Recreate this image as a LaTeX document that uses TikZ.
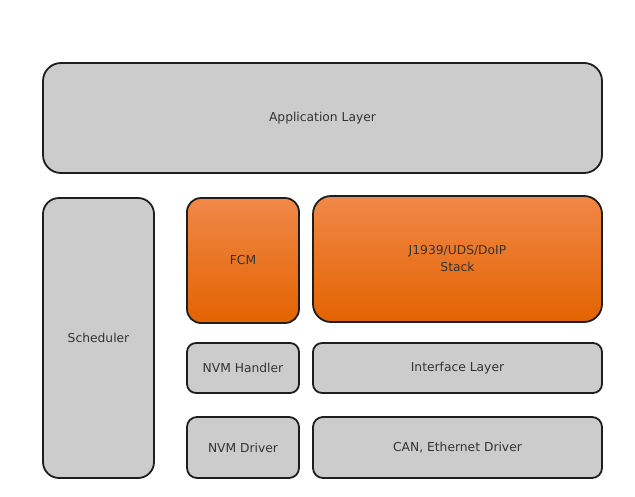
\documentclass[tikz,border=0pt]{standalone}
\usepackage{fontspec}
\setmainfont{DejaVu Sans}
\usepackage{tikz}
\definecolor{boxgray}{HTML}{CCCCCC}
\definecolor{boxline}{HTML}{1E1E1E}
\definecolor{boxtext}{HTML}{333333}
\definecolor{orangetop}{HTML}{F08848}
\definecolor{orangemid}{HTML}{F57500}
\definecolor{orangebot}{HTML}{E36300}
\tikzset{
  layer/.style={draw=boxline, line width=1.8pt, fill=boxgray, text=boxtext,
    font=\fontsize{12.3}{17}\selectfont, align=center, inner sep=0pt, outer sep=0pt},
  hot/.style={layer, top color=orangetop, middle color=orangemid, bottom color=orangebot}
}

\begin{document}
\begin{tikzpicture}[x=1pt,y=-1pt]
    \useasboundingbox (0,0) rectangle (635,496);
    % top row
    \node (app) at (322.5,118) [layer, minimum width=559pt, minimum height=110pt, rounded corners=18pt] {Application Layer};
    % left column
    \node (sched) at (98.5,338) [layer, minimum width=111pt, minimum height=280pt, rounded corners=16pt] {Scheduler};
    % orange stack blocks
    \node (fcm) at (243,260.5) [hot, minimum width=112pt, minimum height=125pt, rounded corners=14pt] {FCM};
    \node (stack) at (457.5,259) [hot, minimum width=289pt, minimum height=126pt, rounded corners=18pt] {J1939/UDS/DoIP\\Stack};
    % lower rows
    \node (nvmh) at (243,368) [layer, minimum width=112pt, minimum height=50pt, rounded corners=9pt] {NVM Handler};
    \node (iface) at (457.5,368) [layer, minimum width=289pt, minimum height=50pt, rounded corners=9pt] {Interface Layer};
    \node (nvmd) at (243,447.5) [layer, minimum width=112pt, minimum height=61pt, rounded corners=10pt] {NVM Driver};
    \node (candrv) at (457.5,447.5) [layer, minimum width=289pt, minimum height=61pt, rounded corners=10pt] {CAN, Ethernet Driver};
\end{tikzpicture}
\end{document}
